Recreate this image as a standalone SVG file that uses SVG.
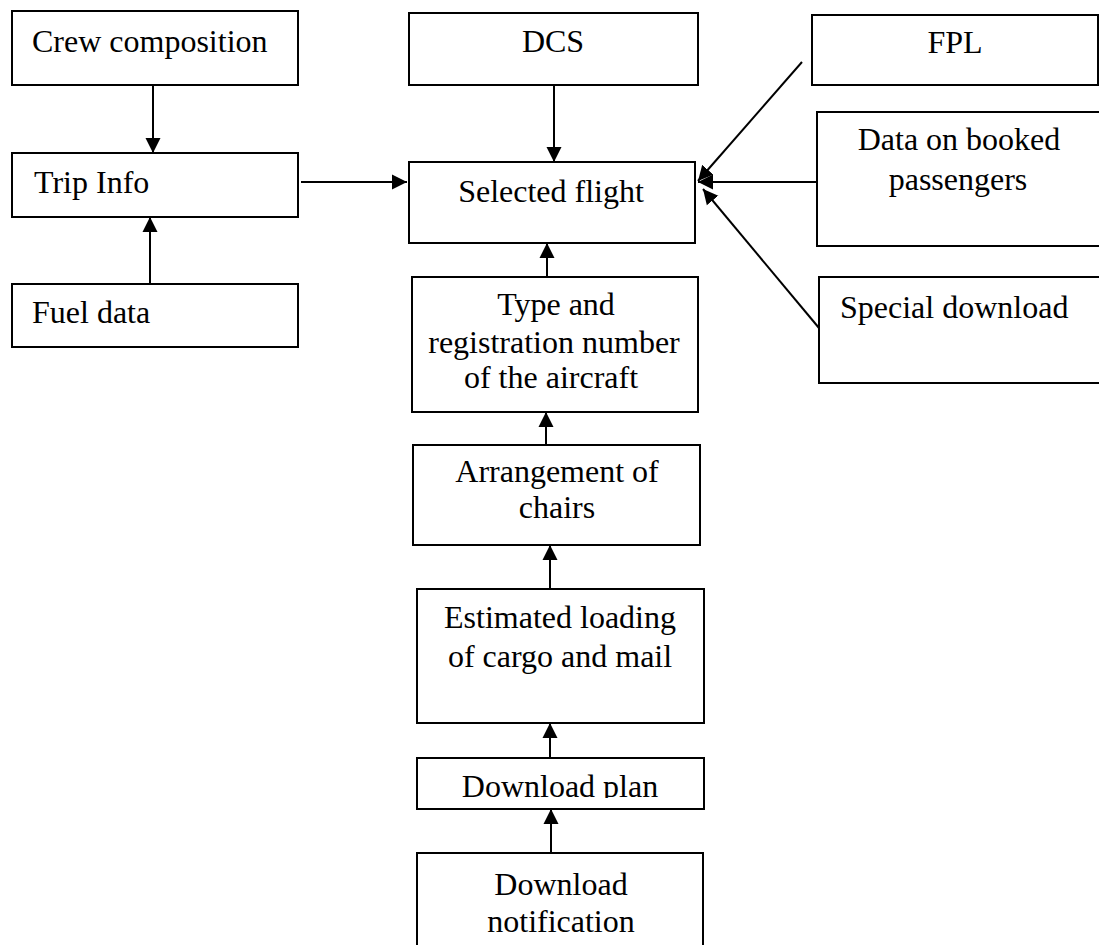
<svg xmlns="http://www.w3.org/2000/svg" width="1099" height="945" viewBox="0 0 1099 945">
  <style>
    .box { fill: #ffffff; stroke: #000000; stroke-width: 2; }
    .lbl { font-family: "Liberation Serif", "Times New Roman", serif; font-size: 32px; fill: #000000; }
    .mid { text-anchor: middle; }
    .edge { stroke: #000000; stroke-width: 2; fill: none; marker-end: url(#arrow); }
  </style>
  <defs>
    <marker id="arrow" markerUnits="userSpaceOnUse" markerWidth="16" markerHeight="16" refX="15" refY="8" orient="auto">
      <path d="M0,0.5 L15,8 L0,15.5 Z" fill="#000000"/>
    </marker>
    <clipPath id="planClip">
      <rect x="417" y="758" width="287" height="40"/>
    </clipPath>
  </defs>
  <rect width="1099" height="945" fill="#ffffff"/>

  <!-- left column -->
  <g id="crew-composition">
    <rect class="box" x="12" y="11" width="286" height="74"/>
    <text class="lbl" x="32" y="52">Crew composition</text>
  </g>
  <g id="trip-info">
    <rect class="box" x="12" y="153" width="286" height="64"/>
    <text class="lbl" x="34" y="193">Trip Info</text>
  </g>
  <g id="fuel-data">
    <rect class="box" x="12" y="284" width="286" height="63"/>
    <text class="lbl" x="32" y="323">Fuel data</text>
  </g>

  <!-- central column -->
  <g id="dcs">
    <rect class="box" x="409" y="13" width="289" height="72"/>
    <text class="lbl mid" x="553" y="52">DCS</text>
  </g>
  <g id="selected-flight">
    <rect class="box" x="409" y="162" width="286" height="81"/>
    <text class="lbl mid" x="551" y="202">Selected flight</text>
  </g>
  <g id="aircraft-type">
    <rect class="box" x="412" y="277" width="286" height="135"/>
    <text class="lbl mid" x="556" y="315">Type and</text>
    <text class="lbl mid" x="554" y="353">registration number</text>
    <text class="lbl mid" x="551" y="388">of the aircraft</text>
  </g>
  <g id="chair-arrangement">
    <rect class="box" x="413" y="445" width="287" height="100"/>
    <text class="lbl mid" x="557" y="482">Arrangement of</text>
    <text class="lbl mid" x="557" y="518">chairs</text>
  </g>
  <g id="estimated-loading">
    <rect class="box" x="417" y="589" width="287" height="134"/>
    <text class="lbl mid" x="560" y="628">Estimated loading</text>
    <text class="lbl mid" x="560" y="667">of cargo and mail</text>
  </g>
  <g id="download-plan">
    <rect class="box" x="417" y="758" width="287" height="51"/>
    <text class="lbl mid" x="560" y="797" clip-path="url(#planClip)">Download plan</text>
  </g>
  <g id="download-notification">
    <rect class="box" x="417" y="853" width="286" height="110"/>
    <text class="lbl mid" x="561" y="895">Download</text>
    <text class="lbl mid" x="561" y="932">notification</text>
  </g>

  <!-- right column -->
  <g id="fpl">
    <rect class="box" x="812" y="15" width="286" height="70"/>
    <text class="lbl mid" x="955" y="53">FPL</text>
  </g>
  <g id="booked-passengers">
    <rect class="box" x="817" y="112" width="300" height="134"/>
    <text class="lbl mid" x="959" y="150">Data on booked</text>
    <text class="lbl mid" x="958" y="190">passengers</text>
  </g>
  <g id="special-download">
    <rect class="box" x="819" y="277" width="300" height="106"/>
    <text class="lbl" x="840" y="318">Special download</text>
  </g>

  <!-- connectors -->
  <g id="connectors">
    <line class="edge" x1="153" y1="85" x2="153" y2="153"/>
    <line class="edge" x1="150" y1="284" x2="150" y2="217"/>
    <line class="edge" x1="301" y1="182" x2="407" y2="182"/>
    <line class="edge" x1="554" y1="85" x2="554" y2="162"/>
    <line class="edge" x1="802" y1="62" x2="698" y2="181"/>
    <line class="edge" x1="817" y1="182" x2="698" y2="182"/>
    <line class="edge" x1="819" y1="328" x2="703" y2="189"/>
    <line class="edge" x1="547" y1="277" x2="547" y2="243"/>
    <line class="edge" x1="546" y1="445" x2="546" y2="412"/>
    <line class="edge" x1="550" y1="589" x2="550" y2="545"/>
    <line class="edge" x1="550" y1="758" x2="550" y2="723"/>
    <line class="edge" x1="551" y1="853" x2="551" y2="809"/>
  </g>
</svg>
